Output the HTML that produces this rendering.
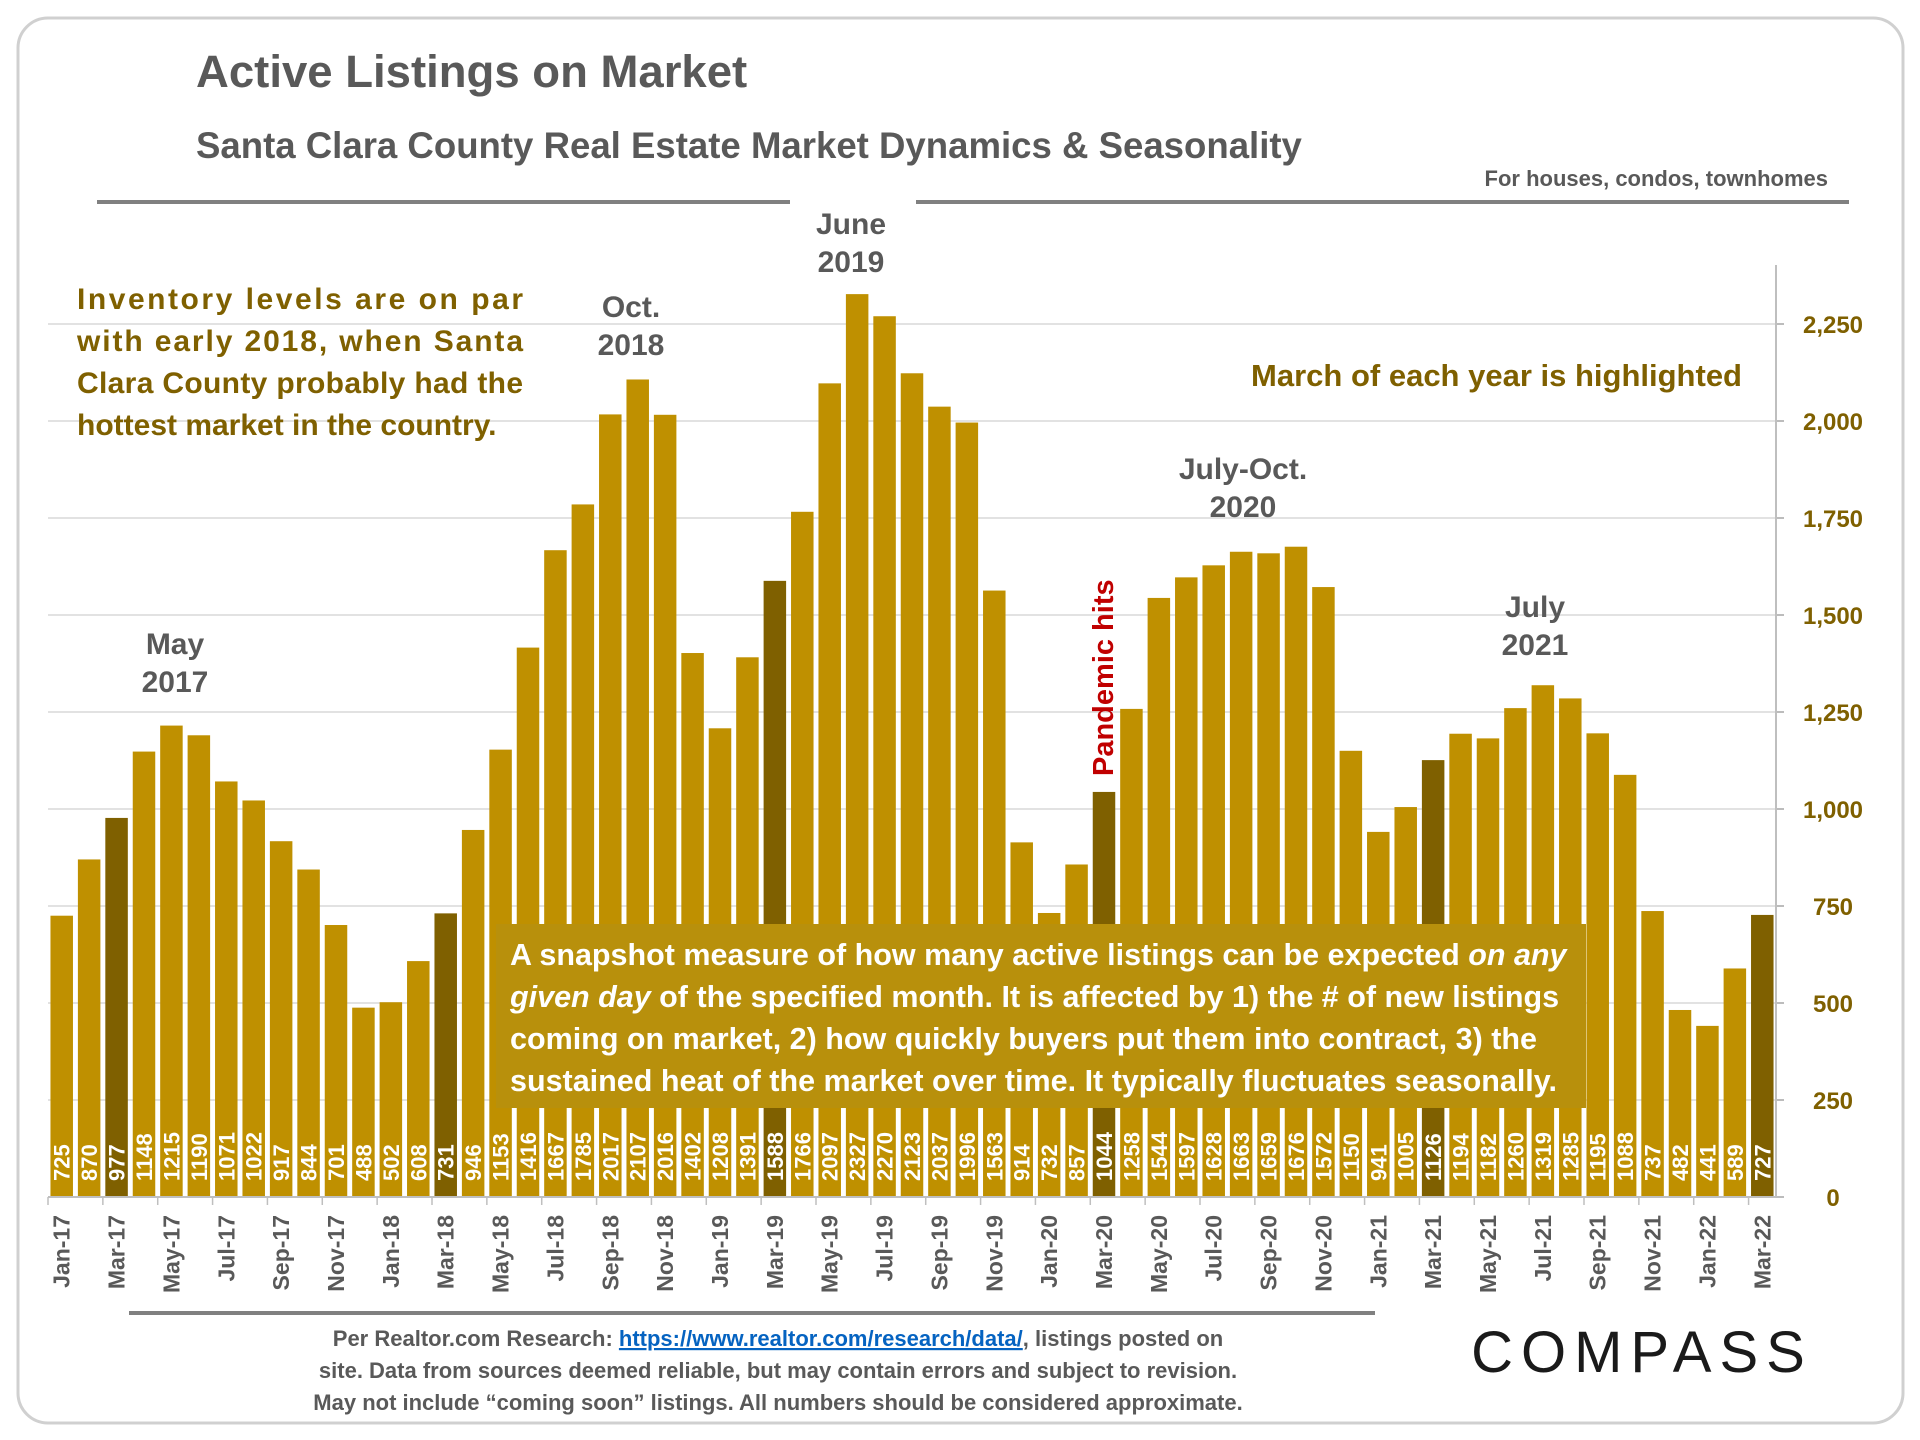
<!DOCTYPE html>
<html><head><meta charset="utf-8"><style>
html,body{margin:0;padding:0;background:#fff;}
svg{display:block;font-family:"Liberation Sans",sans-serif;}
</style></head><body>
<svg id="chart" width="1920" height="1440" viewBox="0 0 1920 1440" xmlns="http://www.w3.org/2000/svg">
<rect x="18" y="18" width="1885" height="1405" rx="30" fill="#fff" stroke="#d0d0d0" stroke-width="3"/>
<text x="196" y="87" font-size="45.5" font-weight="bold" fill="#595959">Active Listings on Market</text>
<text x="196" y="158" font-size="36.6" font-weight="bold" fill="#595959">Santa Clara County Real Estate Market Dynamics &amp; Seasonality</text>
<text x="1828" y="186" font-size="22" font-weight="bold" fill="#595959" text-anchor="end">For houses, condos, townhomes</text>
<line x1="97" y1="202" x2="790" y2="202" stroke="#808080" stroke-width="4"/>
<line x1="916" y1="202" x2="1849" y2="202" stroke="#808080" stroke-width="4"/>
<g id="grid"></g>
<g id="bars"></g>
<g id="axes"></g>
<g font-size="30" font-weight="bold" fill="#7f6000">
<text x="77" y="309" textLength="446" lengthAdjust="spacing">Inventory levels are on par</text>
<text x="77" y="351" textLength="446" lengthAdjust="spacing">with early 2018, when Santa</text>
<text x="77" y="393" textLength="446" lengthAdjust="spacing">Clara County probably had the</text>
<text x="77" y="435">hottest market in the country.</text>
</g>
<text x="1742" y="386" font-size="31" font-weight="bold" fill="#7f6000" text-anchor="end">March of each year is highlighted</text>
<g font-size="30" font-weight="bold" fill="#595959" text-anchor="middle">
<text x="175" y="654">May</text><text x="175" y="692">2017</text>
<text x="631" y="317">Oct.</text><text x="631" y="355">2018</text>
<text x="851" y="234">June</text><text x="851" y="272">2019</text>
<text x="1243" y="479">July-Oct.</text><text x="1243" y="517">2020</text>
<text x="1535" y="617">July</text><text x="1535" y="655">2021</text>
</g>
<text transform="translate(1113,776) rotate(-90)" font-size="29" font-weight="bold" fill="#c00000">Pandemic hits</text>
<g>
<rect x="496" y="924" width="1090" height="184" fill="#b8900c"/>
<g font-size="30.5" font-weight="bold" fill="#fff">
<text x="510" y="965">A snapshot measure of how many active listings can be expected <tspan font-style="italic">on any</tspan></text>
<text x="510" y="1007"><tspan font-style="italic">given day</tspan> of the specified month. It is affected by 1) the # of new listings</text>
<text x="510" y="1049">coming on market, 2) how quickly buyers put them into contract, 3) the</text>
<text x="510" y="1091">sustained heat of the market over time. It typically fluctuates seasonally.</text>
</g>
</g>
<line x1="129" y1="1313" x2="1375" y2="1313" stroke="#808080" stroke-width="4"/>
<g font-size="22" font-weight="bold" fill="#595959" text-anchor="middle">
<text x="778" y="1346">Per Realtor.com Research:  <tspan fill="#0563c1" text-decoration="underline">https://www.realtor.com/research/data/</tspan>, listings posted on</text>
<text x="778" y="1378">site. Data from sources deemed reliable, but may contain errors and subject to revision.</text>
<text x="778" y="1410">May not include “coming soon” listings. All numbers should be considered approximate.</text>
</g>
<text x="1642" y="1372" font-size="58" fill="#1a1a1a" text-anchor="middle" letter-spacing="8">COMPASS</text>
</svg>
<script>
const values = [725,870,977,1148,1215,1190,1071,1022,917,844,701,488,502,608,731,946,1153,1416,1667,1785,2017,2107,2016,1402,1208,1391,1588,1766,2097,2327,2270,2123,2037,1996,1563,914,732,857,1044,1258,1544,1597,1628,1663,1659,1676,1572,1150,941,1005,1126,1194,1182,1260,1319,1285,1195,1088,737,482,441,589,727];
const months = ["Jan","Feb","Mar","Apr","May","Jun","Jul","Aug","Sep","Oct","Nov","Dec"];
const startYear = 17;
const yTicks = [0,250,500,750,1000,1250,1500,1750,2000,2250];
const NS = "http://www.w3.org/2000/svg";
const x0 = 48, x1 = 1776, y0 = 1197, pxPerUnit = 97/250;
const n = values.length, step = (x1 - x0) / n, bw = 22.5;
const xs = i => x0 + step * i + (step - bw) / 2;
const ys = v => y0 - v * pxPerUnit;
function mk(tag, attrs, parent) { const e = document.createElementNS(NS, tag); for (const k in attrs) e.setAttribute(k, attrs[k]); parent.appendChild(e); return e; }
const grid = document.getElementById('grid'), bars = document.getElementById('bars'), axes = document.getElementById('axes');
yTicks.forEach(t => {
  if (t > 0) { const g = mk('line', {x1: x0, x2: x1, y1: ys(t), y2: ys(t), stroke: '#d9d9d9', 'stroke-width': 1.5}, grid);
    
     }
  const tk = mk('line', {x1: x1, x2: x1 + 8, y1: ys(t), y2: ys(t), stroke: '#a6a6a6', 'stroke-width': 1.5}, axes);
  
  
  const lb = mk('text', {x: 1833, y: ys(t) + 9, 'font-size': 24, 'font-weight': 'bold', fill: '#7f6000', 'text-anchor': 'middle'}, axes);
  lb.textContent = t.toLocaleString('en-US');
  
  
});
const ax = mk('line', {x1: x1, x2: x1, y1: 265, y2: y0, stroke: '#bfbfbf', 'stroke-width': 2}, axes);


const xa = mk('line', {x1: x0, x2: x1, y1: y0, y2: y0, stroke: '#bfbfbf', 'stroke-width': 2}, axes);


values.forEach((v, i) => {
  const isMar = (i % 12) === 2;
  const r = mk('rect', {x: xs(i), y: ys(v), width: bw, height: y0 - ys(v), fill: isMar ? '#7f6000' : '#bf9000'}, bars);
  
  
  const cx = xs(i) + bw / 2 + 8;
  const t = mk('text', {transform: `translate(${cx},1181) rotate(-90)`, 'font-size': 22, 'font-weight': 'bold', fill: '#fff'}, bars);
  t.textContent = v;
  
  
  if (i % 2 === 0) {
    const tx = x0 + step * i;
    const tk = mk('line', {x1: tx, x2: tx, y1: y0, y2: y0 + 8, stroke: '#bfbfbf', 'stroke-width': 1.5}, axes);
    
    
    const lx = x0 + step * i + step / 2 + 8;
    const lb = mk('text', {transform: `translate(${lx},1215) rotate(-90)`, 'font-size': 23, 'font-weight': 'bold', fill: '#595959', 'text-anchor': 'end'}, axes);
    lb.textContent = months[i % 12] + '-' + (startYear + Math.floor(i / 12));
    
    
  }
});
</script>
</body></html>
